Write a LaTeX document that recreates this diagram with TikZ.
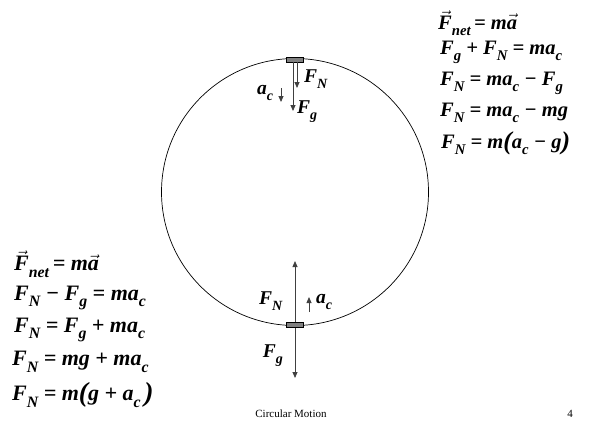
\documentclass[tikz,border=0pt]{standalone}
\usepackage{fontspec}
\setmainfont{Liberation Serif}
\usetikzlibrary{arrows.meta}

\newcommand{\vF}{$\vec{\mbox{F}}$}
\newcommand{\va}{$\vec{\mbox{a}}$}
\newcommand{\sub}[1]{\raisebox{-0.3em}{\scalebox{0.72}{#1}}}
\newcommand{\bigp}[1]{\raisebox{-0.05em}{\scalebox{1.25}{#1}}}

\tikzset{
  eqn/.style={anchor=west, inner sep=0pt,
    font=\fontsize{20.5}{22}\selectfont\bfseries\itshape},
  eqnleft/.style={eqn, font=\fontsize{22}{24}\selectfont\bfseries\itshape},
  lbl/.style={inner sep=0pt,
    font=\fontsize{19.5}{22}\selectfont\bfseries\itshape},
  mass/.style={draw, fill=gray, line width=0.6pt,
    minimum width=17pt, minimum height=5pt, inner sep=0pt},
  force/.style={-{Triangle[width=5pt,length=6pt]}, line width=0.8pt, draw=black!75},
}

\begin{document}
\begin{tikzpicture}[x=1pt,y=-1pt]
            \useasboundingbox (0,0) rectangle (589,424);

            % track
            \draw[line width=0.7pt] (295,192) circle (133.5);

            % car at the top
            \node[mass] (topmass) at (294.5,59.5) {};
            \coordinate (topfg) at (293,111);
            \coordinate (topfn) at (297,88);
            \coordinate (topac1) at (281,88);
            \coordinate (topac2) at (281,102);
            \draw[force] (topmass.south -| topfg) -- (topfg);
            \draw[force] (topmass.south -| topfn) -- (topfn);
            \draw[force] (topac1) -- (topac2);
            \node[lbl, anchor=west] (topfnlbl) at (304,79) {F\sub{N}};
            \node[lbl] (topaclbl) at (265,93) {a\sub{c}};
            \node[lbl, anchor=west] (topfglbl) at (297,112) {F\sub{g}};

            % car at the bottom
            \node[mass] (botmass) at (294.5,325) {};
            \coordinate (botfn) at (295,261);
            \coordinate (botfg) at (295,378);
            \coordinate (botac1) at (309,312);
            \coordinate (botac2) at (309,297);
            \draw[force] (botmass.north -| botfn) -- (botfn);
            \draw[force] (botmass.south -| botfg) -- (botfg);
            \draw[force] (botac1) -- (botac2);
            \node[lbl, anchor=west] (botfnlbl) at (259,301) {F\sub{N}};
            \node[lbl, anchor=west] (botaclbl) at (316,302) {a\sub{c}};
            \node[lbl] (botfglbl) at (273,356) {F\sub{g}};

            % equations, top of the loop
            \node[eqn] (r1) at (438,23) {\vF\sub{net}\,= m\va};
            \node[eqn] (r2) at (440,52) {F\sub{g} + F\sub{N} = ma\sub{c}};
            \node[eqn] (r3) at (440,83) {F\sub{N} = ma\sub{c} − F\sub{g}};
            \node[eqn] (r4) at (440,113) {F\sub{N} = ma\sub{c} − mg};
            \node[eqn] (r5) at (441,143) {F\sub{N} = m\bigp{(}a\sub{c} − g\bigp{)}};

            % equations, bottom of the loop
            \node[eqnleft] (l1) at (14,264) {\vF\sub{net}\,= m\va};
            \node[eqnleft] (l2) at (14,298) {F\sub{N} − F\sub{g} = ma\sub{c}};
            \node[eqnleft] (l3) at (14,330) {F\sub{N} = F\sub{g} + ma\sub{c}};
            \node[eqnleft] (l4) at (12,362) {F\sub{N} = mg + ma\sub{c}};
            \node[eqnleft] (l5) at (12,395) {F\sub{N} = m\bigp{(}g + a\sub{c}\,\bigp{)}};

            % footer
            \node[font=\fontsize{11}{13}\selectfont, inner sep=0pt] (footer) at (291,414) {Circular Motion};
            \node[font=\fontsize{11}{13}\selectfont, inner sep=0pt] (pagenum) at (570,414) {4};
        \end{tikzpicture}
\end{document}
